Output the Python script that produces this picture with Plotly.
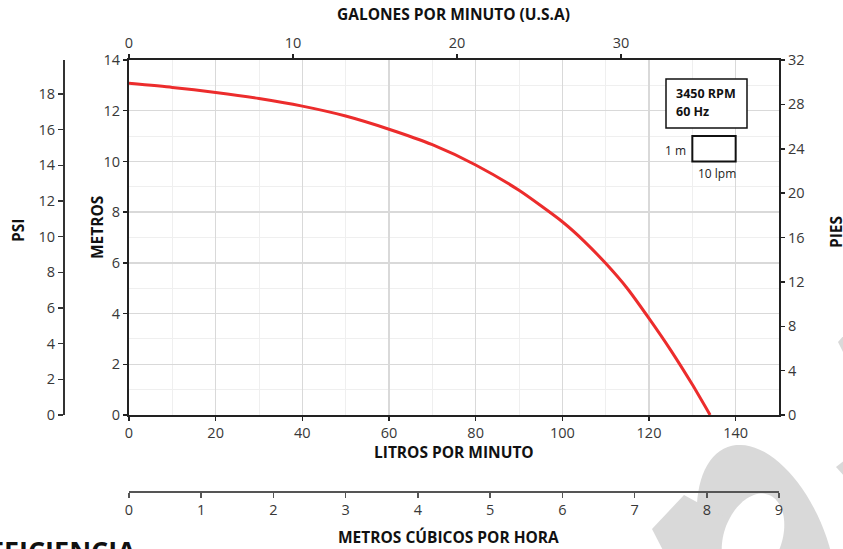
import math
import plotly.graph_objects as go

# ---------------- data ----------------
lpm = [0, 10, 20, 30, 40, 50, 60, 70, 80, 90, 100, 105, 110, 115, 120, 125, 130, 134.1]
metros = [13.08, 12.92, 12.72, 12.48, 12.18, 11.79, 11.27, 10.66, 9.86, 8.86,
          7.62, 6.86, 5.98, 4.99, 3.81, 2.56, 1.2, 0.0]

lpm_ticks = [0, 20, 40, 60, 80, 100, 120, 140]
gpm_ticks = [0, 10, 20, 30]
m_ticks = [0, 2, 4, 6, 8, 10, 12, 14]
psi_ticks = [0, 2, 4, 6, 8, 10, 12, 14, 16, 18]
ft_ticks = [0, 4, 8, 12, 16, 20, 24, 28, 32]
m3h_ticks = [0, 1, 2, 3, 4, 5, 6, 7, 8, 9]

LPM_MAX = 150
M_MAX = 14
GPM_MAX = LPM_MAX / 3.78541
PSI_MAX = M_MAX * 1.42197
FT_MAX = 32
M3H_MAX = 9

# ---------------- layout helpers ----------------
W, H = 843, 549
ML, MR, MT, MB = 20, 64, 60, 10


def px(x):
    return (x - ML) / (W - ML - MR)


def py(y):
    return (H - MB - y) / (H - MT - MB)


def ellipse_path(cx, cy, a, b, theta_deg, n=90):
    t = math.radians(theta_deg)
    pts = []
    for i in range(n):
        s = 2 * math.pi * i / n
        ex = a * math.cos(s)
        ey = b * math.sin(s)
        x = cx + ex * math.cos(t) - ey * math.sin(t)
        y = cy + ex * math.sin(t) + ey * math.cos(t)
        pts.append((px(x), py(y)))
    return "M " + " L ".join(f"{x:.5f},{y:.5f}" for x, y in pts) + " Z"


def poly_path(points):
    return "M " + " L ".join(f"{px(x):.5f},{py(y):.5f}" for x, y in points) + " Z"


FONT = "Open Sans"
TICKFONT = dict(family=FONT, size=14.5, color="#383838")
AXCOL = "#222222"

x_dom = [px(129), 1]
y_dom = [py(415), 1]

fig = go.Figure()

fig.add_trace(go.Scatter(
    x=lpm, y=metros, mode="lines",
    line=dict(color="#ec2c2c", width=3, shape="spline", smoothing=0.6),
    xaxis="x", yaxis="y", hoverinfo="skip", showlegend=False))
# dummy traces to attach the secondary axes
fig.add_trace(go.Scatter(x=[None], y=[None], xaxis="x2", yaxis="y", showlegend=False, hoverinfo="skip"))
fig.add_trace(go.Scatter(x=[None], y=[None], xaxis="x", yaxis="y2", showlegend=False, hoverinfo="skip"))
fig.add_trace(go.Scatter(x=[None], y=[None], xaxis="x3", yaxis="y3", showlegend=False, hoverinfo="skip"))

common_axis = dict(showline=True, linecolor=AXCOL, linewidth=2, ticks="outside", ticklen=4,
                   tickwidth=1.5, tickcolor=AXCOL, tickfont=TICKFONT, zeroline=False,
                   fixedrange=True, automargin=False)

fig.update_layout(
    width=W, height=H,
    margin=dict(l=ML, r=MR, t=MT, b=MB, autoexpand=False),
    paper_bgcolor="white", plot_bgcolor="white",
    showlegend=False,
    xaxis=dict(domain=x_dom, range=[0, LPM_MAX], tickvals=lpm_ticks, anchor="y",
               showgrid=True, gridcolor="#d9d9d9", gridwidth=1.5,
               minor=dict(dtick=10, tick0=0, showgrid=True, gridcolor="#efefef", gridwidth=1),
               **common_axis),
    yaxis=dict(domain=y_dom, range=[0, M_MAX], tickvals=m_ticks, anchor="x",
               showgrid=True, gridcolor="#d9d9d9", gridwidth=1.5,
               minor=dict(dtick=1, tick0=0, showgrid=True, gridcolor="#efefef", gridwidth=1),
               **common_axis),
    xaxis2=dict(overlaying="x", side="top", anchor="y", range=[0, GPM_MAX], tickvals=gpm_ticks,
                showgrid=False, **common_axis),
    yaxis2=dict(overlaying="y", side="right", anchor="x", range=[0, FT_MAX], tickvals=ft_ticks,
                showgrid=False, **common_axis),
    xaxis3=dict(overlaying="x", side="bottom", anchor="free", position=py(491),
                range=[0, M3H_MAX], tickvals=m3h_ticks, showgrid=False,
                showline=True, linecolor="#555555", linewidth=1.5, ticks="outside", ticklen=5,
                tickwidth=1.5, tickcolor="#555555", tickfont=TICKFONT, zeroline=False,
                fixedrange=True, automargin=False),
    yaxis3=dict(overlaying="y", side="left", anchor="free", position=px(64),
                range=[0, PSI_MAX], tickvals=psi_ticks, showgrid=False,
                showline=True, linecolor="#333333", linewidth=2, ticks="outside", ticklen=5,
                tickwidth=1.5, tickcolor="#333333", tickfont=TICKFONT, zeroline=False,
                fixedrange=True, automargin=False),
)

# ---------------- annotations ----------------
ann = []


def A(text, x, y, size=15.5, bold=True, angle=0, xanchor="center", yanchor="middle", color="#111111"):
    t = f"<b>{text}</b>" if bold else text
    ann.append(dict(text=t, x=px(x), y=py(y), xref="paper", yref="paper", showarrow=False,
                    textangle=angle, xanchor=xanchor, yanchor=yanchor,
                    font=dict(family=FONT, size=size, color=color)))


A("GALONES POR MINUTO (U.S.A)", 453, 14)
A("LITROS POR MINUTO", 454, 452)
A("METROS CÚBICOS POR HORA", 449, 537)
A("PSI", 18, 231, angle=-90)
A("METROS", 97, 228, angle=-90)
A("PIES", 836, 232, angle=-90)
A("3450 RPM", 674, 93, size=12.5, xanchor="left")
A("60 Hz", 674, 111, size=12.5, xanchor="left")
A("1 m", 688, 150, size=12, bold=False, xanchor="right", color="#222222")
A("10 lpm", 717, 173, size=12, bold=False, color="#222222")
A("EFICIENCIA", 138, 550, size=27, xanchor="right", color="#111111")

fig.update_layout(annotations=ann)

# ---------------- shapes ----------------
shapes = []
# watermark (decorative)
wm = "#d9d9d9"
shapes.append(dict(type="path", xref="paper", yref="paper", layer="below",
                   path=ellipse_path(767, 555, 115, 62, 70), fillcolor=wm, line=dict(width=0)))
shapes.append(dict(type="path", xref="paper", yref="paper", layer="below",
                   path=poly_path([(652, 529), (684, 495), (726, 518), (726, 560), (668, 560)]),
                   fillcolor=wm, line=dict(width=0)))
shapes.append(dict(type="path", xref="paper", yref="paper", layer="below",
                   path=ellipse_path(753, 537, 45, 29, -70), fillcolor="white", line=dict(width=0)))
shapes.append(dict(type="path", xref="paper", yref="paper", layer="below",
                   path=poly_path([(846, 333), (838, 342), (846, 358)]), fillcolor=wm, line=dict(width=0)))
shapes.append(dict(type="path", xref="paper", yref="paper", layer="below",
                   path=poly_path([(846, 459), (836, 467), (846, 478)]), fillcolor=wm, line=dict(width=0)))
# info box
shapes.append(dict(type="rect", xref="paper", yref="paper", x0=px(666), x1=px(747), y0=py(128), y1=py(79),
                   line=dict(color="#111111", width=1.5), fillcolor="white"))
# scale box 10 lpm x 1 m
shapes.append(dict(type="rect", xref="x", yref="y", x0=130, x1=140, y0=10, y1=11,
                   line=dict(color="#111111", width=2), fillcolor="white"))
fig.update_layout(shapes=shapes)

fig.write_html("out.html", config={"displayModeBar": False, "staticPlot": True},
               post_script="document.body.style.margin='0px';document.body.style.overflow='hidden';")
